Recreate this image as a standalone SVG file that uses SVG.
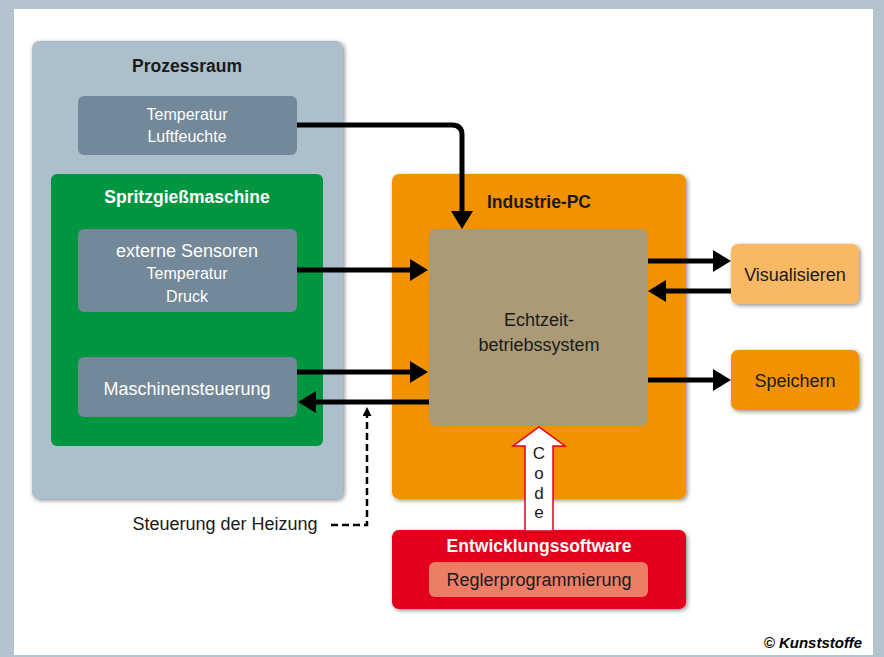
<svg xmlns="http://www.w3.org/2000/svg" width="884" height="657" viewBox="0 0 884 657">
<defs>
<filter id="sh" x="-10%" y="-10%" width="120%" height="120%">
<feDropShadow dx="1.5" dy="1.5" stdDeviation="2" flood-color="#000" flood-opacity="0.45"/>
</filter>
<marker id="ah" viewBox="0 0 18 22" refX="0" refY="11" markerWidth="18" markerHeight="22" markerUnits="userSpaceOnUse" orient="auto">
<path d="M0,0 L18,11 L0,22 Z" fill="#000"/>
</marker>
<marker id="ahs" viewBox="0 0 9 9" refX="0" refY="4.5" markerWidth="9" markerHeight="9" markerUnits="userSpaceOnUse" orient="auto">
<path d="M0,0 L9,4.5 L0,9 Z" fill="#000"/>
</marker>
</defs>
<style>
text{font-family:"Liberation Sans",Arial,sans-serif;text-anchor:middle}
.t{font-weight:bold;font-size:17.5px}
.w{fill:#fff}
.k{fill:#1a1a1a}
.m{font-size:18px}
.s{font-size:16px}
.box{filter:url(#sh)}
.arr{fill:none;stroke:#000;stroke-width:5;marker-end:url(#ah)}
</style>
<rect x="0" y="0" width="884" height="657" fill="#b3c3cd"/>
<rect x="14" y="9" width="859" height="646" fill="#fff"/>

<g id="prozessraum">
<rect class="box" x="32" y="41" width="311" height="458" rx="7" fill="#adbfca"/>
<text class="t k" x="187" y="72">Prozessraum</text>
</g>
<g id="temperatur-luftfeuchte">
<rect x="78" y="96" width="219" height="59" rx="6" fill="#738898"/>
<text class="s w" x="187" y="120">Temperatur</text>
<text class="s w" x="187" y="142">Luftfeuchte</text>
</g>
<g id="spritzgiessmaschine">
<rect x="51" y="174" width="272" height="272" rx="6" fill="#009640"/>
<text class="t w" x="187" y="203">Spritzgießmaschine</text>
</g>
<g id="externe-sensoren">
<rect x="78" y="229" width="219" height="83" rx="6" fill="#738898"/>
<text class="m w" x="187" y="257">externe Sensoren</text>
<text class="s w" x="187" y="279">Temperatur</text>
<text class="s w" x="187" y="302">Druck</text>
</g>
<g id="maschinensteuerung">
<rect x="78" y="357" width="219" height="60" rx="6" fill="#738898"/>
<text class="m w" x="187" y="395">Maschinensteuerung</text>
</g>
<g id="industrie-pc">
<rect class="box" x="392" y="174" width="294" height="325" rx="7" fill="#f39200"/>
<text class="t k" x="539" y="208">Industrie-PC</text>
</g>
<g id="echtzeitbetriebssystem">
<rect x="429" y="229" width="219" height="197" rx="7" fill="#ab9a76"/>
<text class="m k" x="539" y="326">Echtzeit-</text>
<text class="m k" x="539" y="351">betriebssystem</text>
</g>
<g id="visualisieren">
<rect class="box" x="731" y="244" width="128" height="60" rx="7" fill="#f9b864"/>
<text class="m k" x="795" y="281">Visualisieren</text>
</g>
<g id="speichern">
<rect class="box" x="731" y="350" width="128" height="60" rx="7" fill="#f39200"/>
<text class="m k" x="795" y="387">Speichern</text>
</g>
<g id="entwicklungssoftware">
<rect class="box" x="392" y="530" width="294" height="79" rx="7" fill="#e2001a"/>
<text class="t w" x="539" y="552">Entwicklungssoftware</text>
</g>
<g id="reglerprogrammierung">
<rect x="429" y="562" width="219" height="35" rx="6" fill="#ee7d65"/>
<text class="m k" x="539" y="586">Reglerprogrammierung</text>
</g>

<g id="connectors">
<path class="arr" d="M297,125 H452 Q462,125 462,135 V211"/>
<path class="arr" d="M297,270 H410"/>
<path class="arr" d="M297,372 H410"/>
<path class="arr" d="M429,402 H316"/>
<path class="arr" d="M648,261 H713"/>
<path class="arr" d="M731,291 H666"/>
<path class="arr" d="M648,380 H713"/>
<path d="M331,525 H367 V416" fill="none" stroke="#000" stroke-width="2.5" stroke-dasharray="7,4" marker-end="url(#ahs)"/>
<polygon points="525,531 525,446 513,446 539,427 565,446 553,446 553,531" fill="#fff" stroke="#e2001a" stroke-width="1.5"/>
<text class="k" x="539" y="459" font-size="17">C</text>
<text class="k" x="539" y="479" font-size="17">o</text>
<text class="k" x="539" y="499" font-size="17">d</text>
<text class="k" x="539" y="518" font-size="17">e</text>
</g>

<text class="m k" x="225" y="530">Steuerung der Heizung</text>
<text x="862" y="648" style="text-anchor:end;font-weight:bold;font-style:italic;font-size:15px" fill="#000">© Kunststoffe</text>
</svg>
